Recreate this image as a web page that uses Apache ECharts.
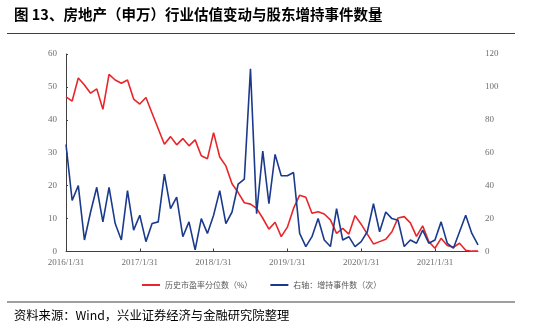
<!DOCTYPE html>
<html><head><meta charset="utf-8">
<script src="https://cdn.jsdelivr.net/npm/echarts@6/dist/echarts.min.js"></script>
<style>html,body{margin:0;padding:0;background:#fff}#c{width:550px;height:329px}</style>
</head><body><div id="c"></div>
<script>
var dates = [
 '2016/1/31','2016/2/29','2016/3/31','2016/4/30','2016/5/31','2016/6/30','2016/7/31','2016/8/31','2016/9/30','2016/10/31','2016/11/30','2016/12/31',
 '2017/1/31','2017/2/28','2017/3/31','2017/4/30','2017/5/31','2017/6/30','2017/7/31','2017/8/31','2017/9/30','2017/10/31','2017/11/30','2017/12/31',
 '2018/1/31','2018/2/28','2018/3/31','2018/4/30','2018/5/31','2018/6/30','2018/7/31','2018/8/31','2018/9/30','2018/10/31','2018/11/30','2018/12/31',
 '2019/1/31','2019/2/28','2019/3/31','2019/4/30','2019/5/31','2019/6/30','2019/7/31','2019/8/31','2019/9/30','2019/10/31','2019/11/30','2019/12/31',
 '2020/1/31','2020/2/29','2020/3/31','2020/4/30','2020/5/31','2020/6/30','2020/7/31','2020/8/31','2020/9/30','2020/10/31','2020/11/30','2020/12/31',
 '2021/1/31','2021/2/28','2021/3/31','2021/4/30','2021/5/31','2021/6/30','2021/7/31','2021/8/31'
];
var pePercentile = [
 47.0,45.7,52.7,50.6,48.1,49.4,43.2,53.8,52.1,51.1,52.1,46.3,
 44.8,46.8,42.0,37.3,32.6,34.9,32.4,34.3,32.1,33.9,29.1,28.2,
 36.1,28.7,26.0,20.6,17.9,14.8,14.4,13.1,10.1,6.8,8.9,4.5,
 7.4,13.1,17.1,16.5,11.6,12.1,11.4,9.6,5.5,7.0,5.3,10.9,
 8.3,5.3,2.3,3.0,3.7,6.0,10.2,10.6,8.7,4.6,7.8,3.0,
 1.0,4.0,1.8,1.3,2.5,0.4,0.1,0.1
];
var holdIncrease = [
 65,31,40,7,24,39,18,39,17,7,37,13,
 22,6,17,18,47,26,33,9,18,1,20,11,
 22,37,17,24,41,44,111,23,61,29,59,46,
 46,48,11,3,9,20,7,3,26,7,9,3,
 6,12,29,12,24,20,19,3,7,5,13,5,
 7,18,5,2,12,22,11,4
];
var leftTicks = {min:0, max:60, interval:10};
var rightTicks = {min:0, max:120, interval:20};
var seriesNames = ['历史市盈率分位数（%）','右轴：增持事件数（次）'];
var titleText = '图 13、房地产（申万）行业估值变动与股东增持事件数量';
var sourceText = '资料来源：Wind，兴业证券经济与金融研究院整理';

var chart = echarts.init(document.getElementById('c'), null, {renderer:'canvas'});
var serif = 'Liberation Serif, Times New Roman, serif';
var labelColor = '#6e6e6e';
chart.setOption({
  animation:false,
  backgroundColor:'#fff',
  grid:{left:66, right:72, top:54, bottom:77.5},
  graphic:[
    {type:'text', left:14, top:7, style:{text:titleText, font:'bold 14.5px "Noto Sans CJK SC"', fill:'#000'}},
    {type:'line', shape:{x1:7,y1:33.5,x2:515,y2:33.5}, style:{stroke:'#404040', lineWidth:1}},
    {type:'line', shape:{x1:7,y1:302,x2:515,y2:302}, style:{stroke:'#404040', lineWidth:1}},
    {type:'text', left:14, top:309, style:{text:sourceText, font:'12.3px "Noto Sans CJK SC"', fill:'#000'}}
  ],
  legend:{
    left:137, top:276, itemGap:18, itemWidth:18, itemHeight:2, icon:'rect',
    textStyle:{fontSize:8, color:'#595959', fontFamily:'Noto Sans CJK SC'},
    data:seriesNames
  },
  xAxis:{
    type:'category', data:dates, boundaryGap:false,
    axisLine:{lineStyle:{color:'#404040', width:1}},
    axisTick:{inside:true, length:3, interval:11, lineStyle:{color:'#404040'}},
    axisLabel:{interval:11, color:labelColor, fontSize:9, fontFamily:serif, margin:7}
  },
  yAxis:[
    {type:'value', min:leftTicks.min, max:leftTicks.max, interval:leftTicks.interval,
     splitLine:{show:false},
     axisLine:{show:true, lineStyle:{color:'#404040', width:1}},
     axisTick:{show:true, inside:true, length:2, lineStyle:{color:'#404040'}},
     axisLabel:{color:labelColor, fontSize:9, fontFamily:serif, margin:9}},
    {type:'value', min:rightTicks.min, max:rightTicks.max, interval:rightTicks.interval,
     splitLine:{show:false},
     axisLine:{show:false}, axisTick:{show:false},
     axisLabel:{color:labelColor, fontSize:9, fontFamily:serif, margin:7}}
  ],
  series:[
    {name:seriesNames[0], type:'line', yAxisIndex:0, data:pePercentile, symbol:'none',
     lineStyle:{color:'#e8262a', width:1.6}, itemStyle:{color:'#e8262a'}, z:2},
    {name:seriesNames[1], type:'line', yAxisIndex:1, data:holdIncrease, symbol:'none',
     lineStyle:{color:'#1b3a8c', width:1.6}, itemStyle:{color:'#1b3a8c'}, z:3}
  ]
});
</script></body></html>
